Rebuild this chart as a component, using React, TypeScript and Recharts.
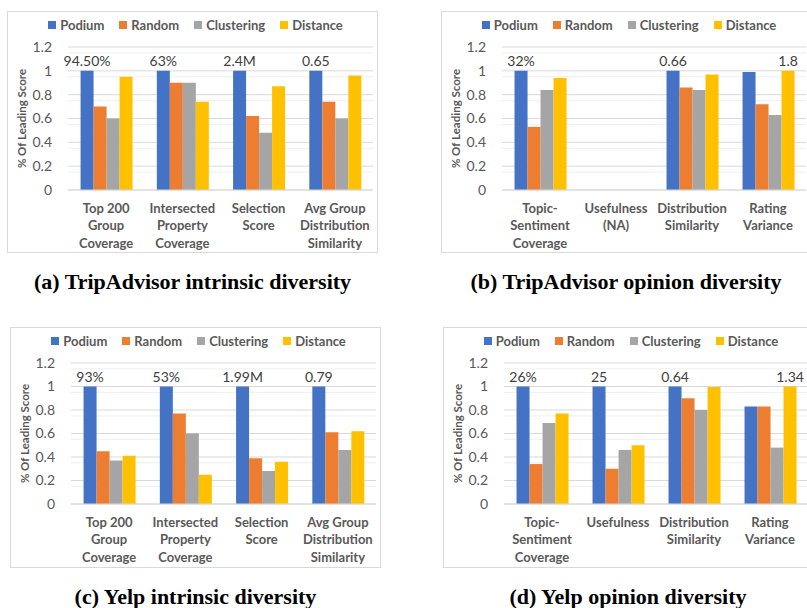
import React from "react";
import { BarChart, Bar, XAxis, YAxis, CartesianGrid, Legend, LabelList } from "recharts";

// ---------- data ----------
const intrinsicCategories = ["Top 200\nGroup\nCoverage", "Intersected\nProperty\nCoverage", "Selection\nScore", "Avg Group\nDistribution\nSimilarity"];
const taOpinionCategories = ["Topic-\nSentiment\nCoverage", "Usefulness\n(NA)", "Distribution\nSimilarity", "Rating\nVariance"];
const yelpOpinionCategories = ["Topic-\nSentiment\nCoverage", "Usefulness", "Distribution\nSimilarity", "Rating\nVariance"];

const seriesNames = ["Podium", "Random", "Clustering", "Distance"];
const seriesColors = ["#4472C4", "#ED7D31", "#A5A5A5", "#FFC000"];

const yTicks = [0, 0.2, 0.4, 0.6, 0.8, 1, 1.2];
const minorTicks = [0.05, 0.1, 0.15, 0.25, 0.3, 0.35, 0.45, 0.5, 0.55, 0.65, 0.7, 0.75, 0.85, 0.9, 0.95, 1.05, 1.1, 1.15];

// (a) TripAdvisor intrinsic
const taIntrPodium = [1, 1, 1, 1];
const taIntrRandom = [0.7, 0.9, 0.62, 0.74];
const taIntrClustering = [0.6, 0.9, 0.48, 0.6];
const taIntrDistance = [0.95, 0.74, 0.87, 0.96];
const taIntrPodiumLabels = ["94.50%", "63%", "2.4M", "0.65"];
const taIntrDistanceLabels = ["", "", "", ""];

// (b) TripAdvisor opinion
const taOpPodium = [1, null, 1, 0.99];
const taOpRandom = [0.53, null, 0.86, 0.72];
const taOpClustering = [0.84, null, 0.84, 0.63];
const taOpDistance = [0.94, null, 0.97, 1];
const taOpPodiumLabels = ["32%", "", "0.66", ""];
const taOpDistanceLabels = ["", "", "", "1.8"];

// (c) Yelp intrinsic
const yIntrPodium = [1, 1, 1, 1];
const yIntrRandom = [0.45, 0.77, 0.39, 0.61];
const yIntrClustering = [0.37, 0.6, 0.28, 0.46];
const yIntrDistance = [0.41, 0.25, 0.36, 0.62];
const yIntrPodiumLabels = ["93%", "53%", "1.99M", "0.79"];
const yIntrDistanceLabels = ["", "", "", ""];

// (d) Yelp opinion
const yOpPodium = [1, 1, 1, 0.83];
const yOpRandom = [0.34, 0.3, 0.9, 0.83];
const yOpClustering = [0.69, 0.46, 0.8, 0.48];
const yOpDistance = [0.77, 0.5, 0.995, 1];
const yOpPodiumLabels = ["26%", "25", "0.64", ""];
const yOpDistanceLabels = ["", "", "", "1.34"];

// ---------- helpers ----------
const GREY = "#595959";
const SANS = "Lato, 'Open Sans', sans-serif";

function buildRows(cats: string[], p: any[], r: any[], c: any[], d: any[], pl: string[], dl: string[]) {
  return cats.map((name, i) => ({
    name,
    Podium: p[i],
    Random: r[i],
    Clustering: c[i],
    Distance: d[i],
    podiumLabel: pl[i],
    distanceLabel: dl[i],
  }));
}

const CategoryTick = (props: any) => {
  const { x, y, payload } = props;
  const lines = String(payload.value).split("\n");
  return (
    <text x={x} y={y} textAnchor="middle" fill={GREY} fontFamily={SANS} fontWeight={700} fontSize={13}>
      {lines.map((l, i) => (
        <tspan key={i} x={x} dy={i === 0 ? 22.5 : 17.5}>{l}</tspan>
      ))}
    </text>
  );
};

const LegendContent = () => (
  <div style={{ display: "flex", justifyContent: "center", alignItems: "center", height: 20, paddingLeft: 6, fontFamily: SANS, fontWeight: 700, fontSize: 13, color: GREY }}>
    {seriesNames.map((n, i) => (
      <div key={n} style={{ display: "flex", alignItems: "center", marginLeft: i === 0 ? 0 : 15 }}>
        <span style={{ display: "inline-block", width: 8, height: 8, background: seriesColors[i], marginRight: 4 }} />
        <span>{n}</span>
      </div>
    ))}
  </div>
);

const YLabel = (props: any) => {
  const { viewBox } = props;
  const cx = 13;
  const cy = viewBox.y + viewBox.height / 2;
  return (
    <text x={cx} y={cy} transform={`rotate(-90 ${cx} ${cy})`} textAnchor="middle" dominantBaseline="central" fill={GREY} fontFamily={SANS} fontWeight={700} fontSize={11.5}>
      % Of Leading Score
    </text>
  );
};

type PanelProps = {
  left: number; top: number; width: number; height: number;
  rows: any[]; caption: string; bottom: number;
};

function Panel({ left, top, width, height, rows, caption, bottom }: PanelProps) {
  const cw = width - 2;
  const ch = height - 2;
  return (
    <>
      <div style={{ position: "absolute", left, top, width: cw, height: ch, border: "1px solid #d9d9d9", background: "#fff" }}>
        <BarChart width={cw} height={ch} data={rows} margin={{ top: 15, right: 4, bottom: 0, left: 0 }} barCategoryGap="16.5%" barGap={0}>
          <CartesianGrid vertical={false} stroke="#efefef" horizontalValues={minorTicks} />
          <CartesianGrid vertical={false} stroke="#d9d9d9" />
          <Legend verticalAlign="top" content={<LegendContent />} wrapperStyle={{ top: 3, left: 0, width: cw, height: 20 }} />
          <XAxis dataKey="name" tick={<CategoryTick />} tickLine={false} axisLine={{ stroke: "#d9d9d9" }} interval={0} height={bottom} tickSize={0} tickMargin={0} />
          <YAxis width={60} domain={[0, 1.2]} ticks={yTicks} axisLine={false} tickLine={false} tickSize={0} tickMargin={16}
            tick={{ fill: GREY, fontSize: 14, fontFamily: SANS }} label={<YLabel />} allowDataOverflow />
          {seriesNames.map((n, i) => (
            <Bar key={n} dataKey={n} fill={seriesColors[i]} isAnimationActive={false}>
              {n === "Podium" && (
                <LabelList dataKey="podiumLabel" position="top" offset={5} fill="#404040" fontSize={14} fontFamily={SANS} />
              )}
              {n === "Distance" && (
                <LabelList dataKey="distanceLabel" position="top" offset={5} fill="#404040" fontSize={14} fontFamily={SANS} />
              )}
            </Bar>
          ))}
        </BarChart>
      </div>
      <div style={{ position: "absolute", left, top: top + height + 16, width, textAlign: "center", lineHeight: "26px",
        fontFamily: "'Liberation Serif', 'Times New Roman', serif", fontWeight: 700, fontSize: 22, color: "#000" }}>
        {caption}
      </div>
    </>
  );
}

export default function App() {
  const a = buildRows(intrinsicCategories, taIntrPodium, taIntrRandom, taIntrClustering, taIntrDistance, taIntrPodiumLabels, taIntrDistanceLabels);
  const b = buildRows(taOpinionCategories, taOpPodium, taOpRandom, taOpClustering, taOpDistance, taOpPodiumLabels, taOpDistanceLabels);
  const c = buildRows(intrinsicCategories, yIntrPodium, yIntrRandom, yIntrClustering, yIntrDistance, yIntrPodiumLabels, yIntrDistanceLabels);
  const d = buildRows(yelpOpinionCategories, yOpPodium, yOpRandom, yOpClustering, yOpDistance, yOpPodiumLabels, yOpDistanceLabels);
  return (
    <div style={{ position: "absolute", left: 0, top: 0, width: 807, height: 608, overflow: "hidden", background: "#fff" }}>
      <Panel left={7} top={11} width={371} height={242} rows={a} bottom={62} caption="(a) TripAdvisor intrinsic diversity" />
      <Panel left={441} top={11} width={370} height={242} rows={b} bottom={62} caption="(b) TripAdvisor opinion diversity" />
      <Panel left={10} top={327} width={371} height={241} rows={c} bottom={63} caption="(c) Yelp intrinsic diversity" />
      <Panel left={443} top={327} width={370} height={241} rows={d} bottom={63} caption="(d) Yelp opinion diversity" />
    </div>
  );
}
